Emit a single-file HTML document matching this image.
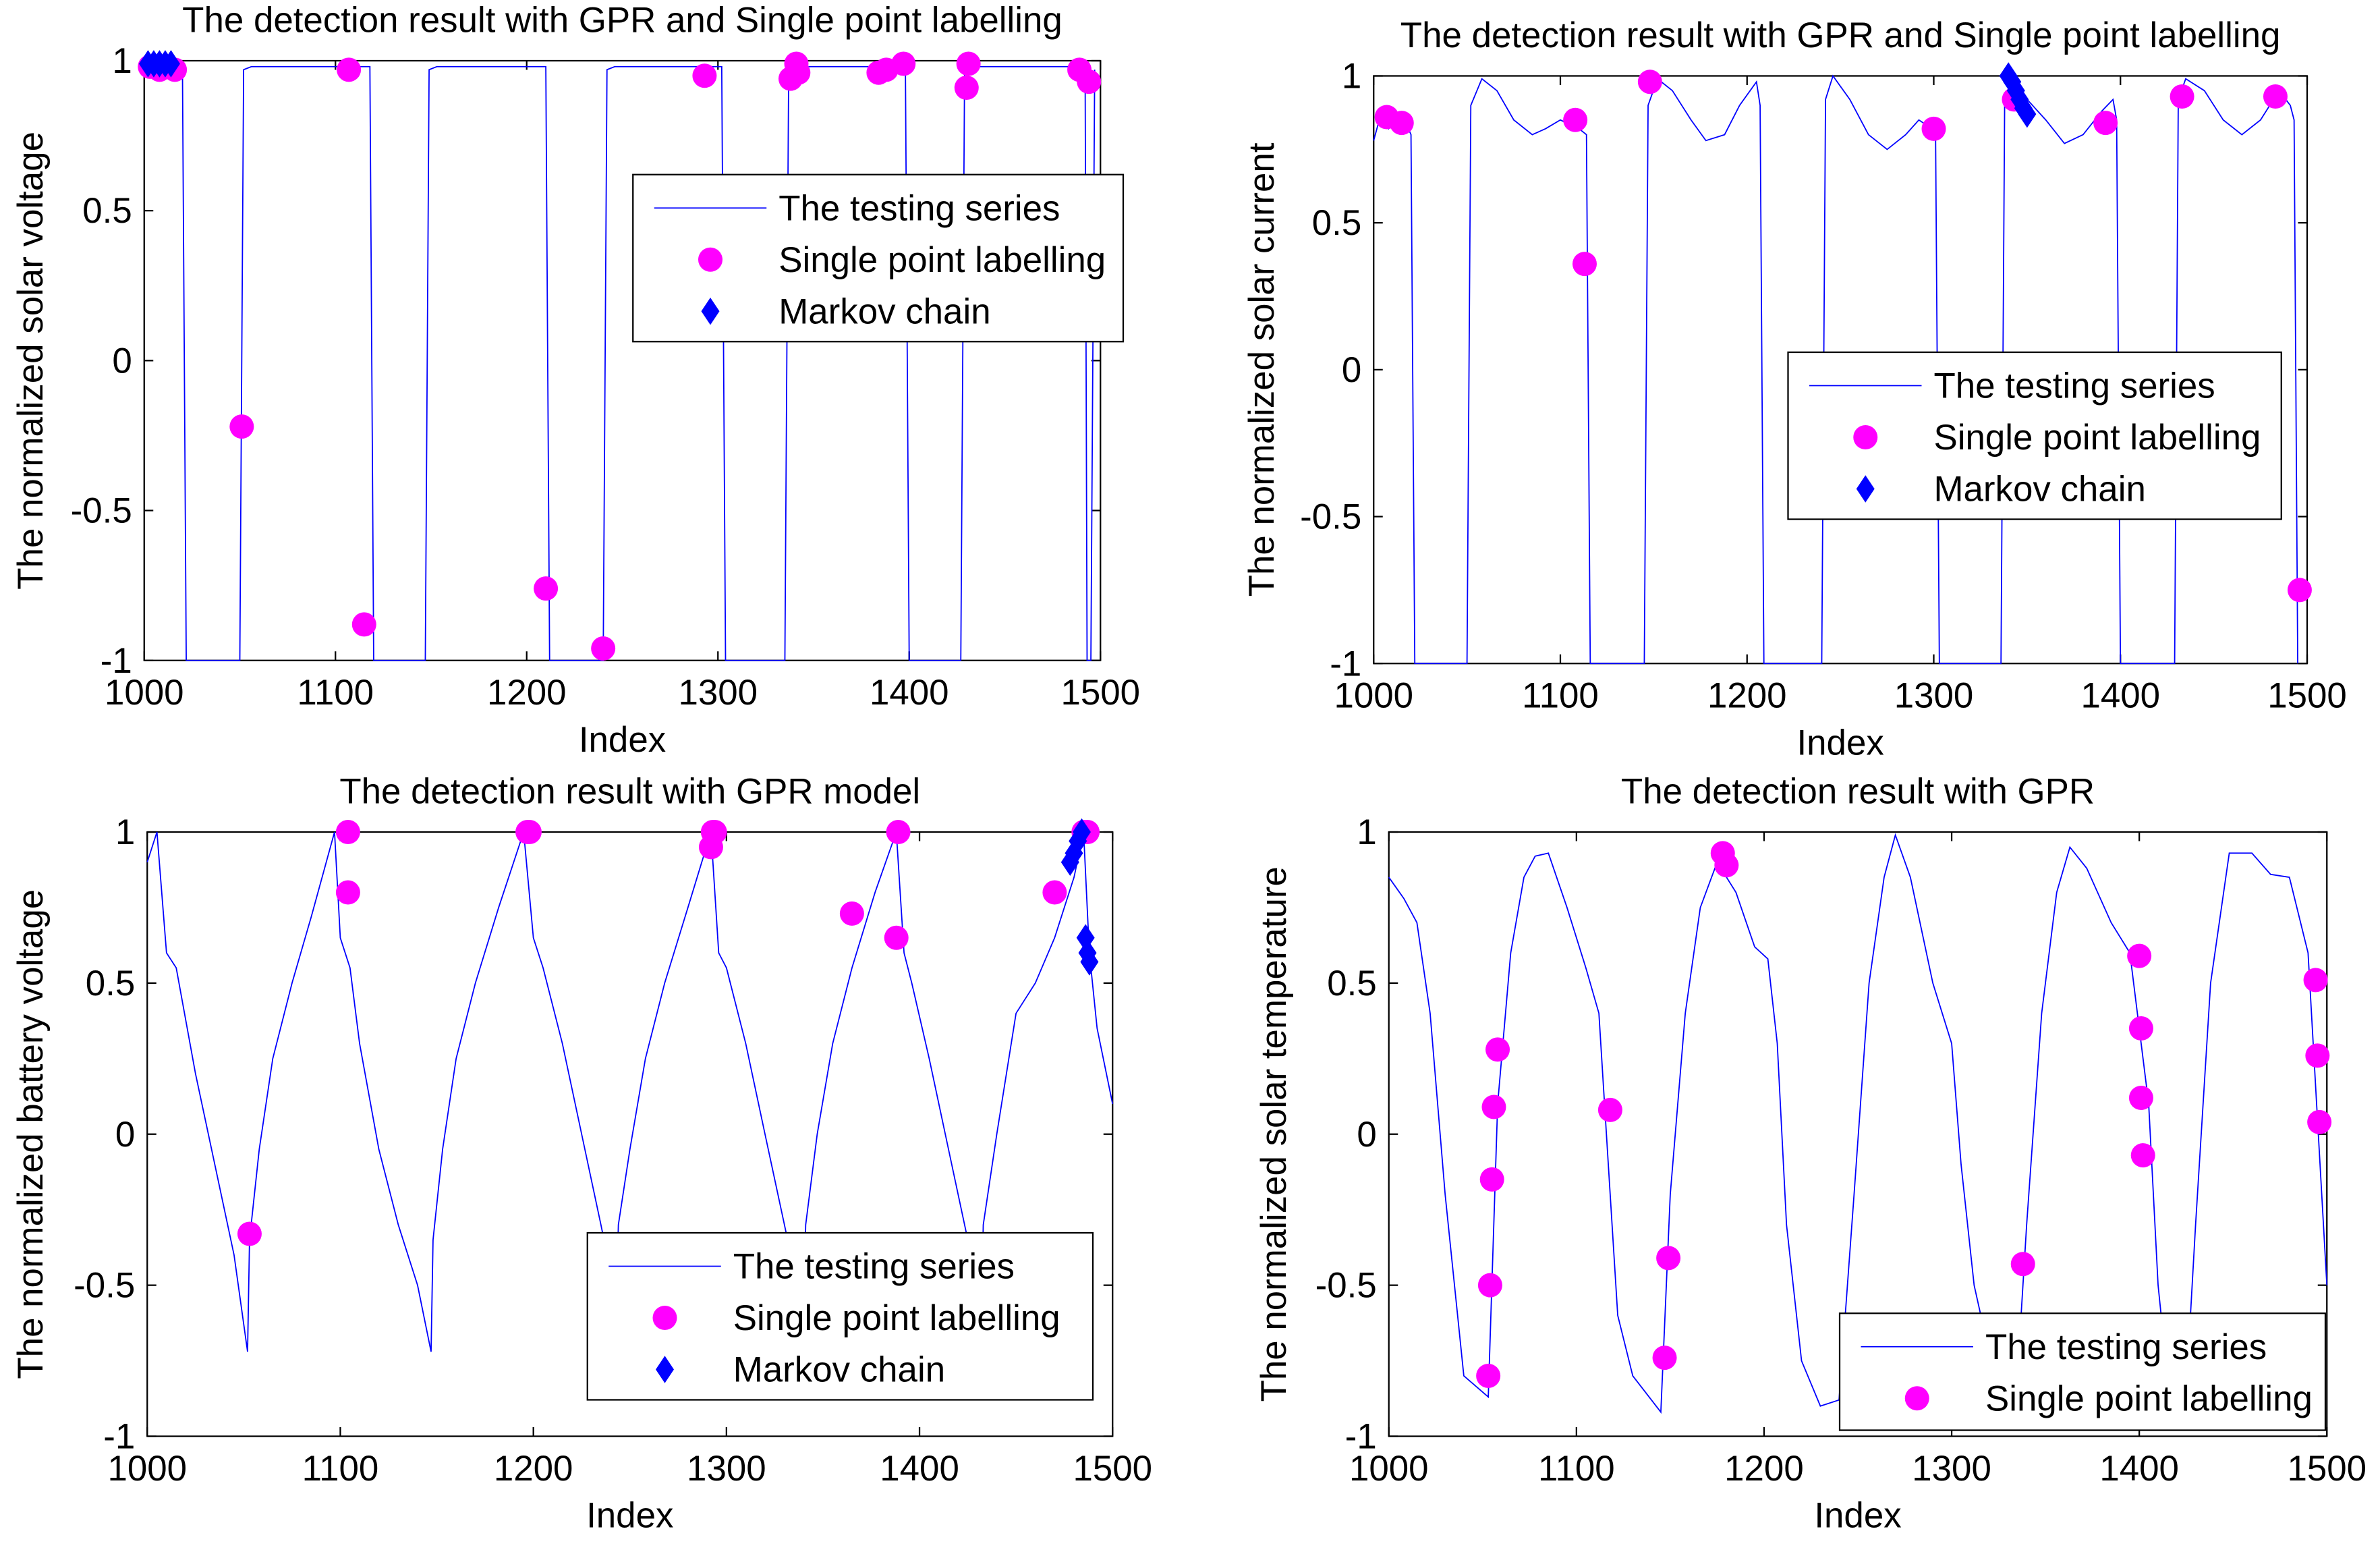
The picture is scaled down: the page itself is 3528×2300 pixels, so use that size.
<!DOCTYPE html>
<html><head><meta charset="utf-8"><style>
html,body{margin:0;padding:0;background:#fff;}
svg text{font-family:"Liberation Sans",Arial,sans-serif;fill:#000;}
</style></head><body>
<svg id="fig" xmlns="http://www.w3.org/2000/svg" width="3528" height="2295" viewBox="0 0 1568 1020"></svg>
<script>
// ---------- Data ----------
const xTicks = [1000,1100,1200,1300,1400,1500];
const yTicks = [1,0.5,0,-0.5,-1];
const yTickLabels = ["1","0.5","0","-0.5","-1"];

// Panel 1: solar voltage (breakpoints index,value)
const p1LineX = [1000,1020,1022,1050,1052,1056,1060,1118,1120,1147,1149,1153,1210,1212,1240,1242,1246,1302,1304,1335,1337,1340,1398,1400,1427,1429,1432,1492,1493,1495,1497];
const p1LineY = [0.98,0.98,-1,-1,0.97,0.98,0.98,0.98,-1,-1,0.97,0.98,0.98,-1,-1,0.97,0.98,0.98,-1,-1,0.97,0.98,0.98,-1,-1,0.97,0.98,0.98,-1,-1,0.97];
const p1DotX = [1003,1008,1012,1016,1051,1107,1115,1210,1240,1293,1338,1341,1342,1384,1388,1397,1430,1431,1489,1494];
const p1DotY = [0.98,0.97,0.98,0.97,-0.22,0.97,-0.88,-0.76,-0.96,0.95,0.94,0.99,0.96,0.96,0.97,0.99,0.91,0.99,0.97,0.93];
const p1DiaX = [1002,1005,1008,1011,1014];
const p1DiaY = [0.99,0.99,0.99,0.99,0.99];

// Panel 2: solar current
const p2LineX = [1000,1003,1008,1012,1018,1020,1022,1050,1052,1058,1066,1075,1085,1092,1100,1110,1114,1116,1145,1147,1152,1160,1170,1178,1188,1196,1205,1207,1209,1240,1242,1246,1255,1265,1275,1285,1292,1299,1301,1303,1336,1338,1342,1350,1360,1370,1380,1390,1396,1398,1400,1429,1431,1435,1445,1455,1465,1475,1485,1491,1493,1495];
const p2LineY = [0.78,0.85,0.82,0.87,0.83,0.8,-1,-1,0.9,0.99,0.95,0.85,0.8,0.82,0.85,0.82,0.8,-1,-1,0.9,0.99,0.95,0.85,0.78,0.8,0.9,0.98,0.9,-1,-1,0.92,1.0,0.92,0.8,0.75,0.8,0.85,0.82,0.8,-1,-1,0.9,1.0,0.92,0.85,0.77,0.8,0.88,0.92,0.85,-1,-1,0.92,0.99,0.95,0.85,0.8,0.85,0.95,0.9,0.85,-1];
const p2DotX = [1007,1015,1108,1113,1148,1300,1343,1392,1433,1483,1496];
const p2DotY = [0.86,0.84,0.85,0.36,0.98,0.82,0.92,0.84,0.93,0.93,-0.75];
const p2DiaX = [1340,1342,1344,1346,1348,1350];
const p2DiaY = [1.0,0.98,0.95,0.92,0.89,0.87];

// Panel 3: battery voltage
const p3LineX = [1000,1005,1010,1015,1025,1035,1045,1052,1053,1058,1065,1075,1085,1097,1100,1105,1110,1120,1130,1140,1147,1148,1153,1160,1170,1182,1195,1200,1205,1215,1225,1235,1243,1244,1250,1258,1268,1280,1292,1296,1300,1310,1320,1330,1340,1341,1347,1355,1365,1377,1388,1392,1396,1405,1415,1425,1432,1433,1440,1450,1460,1470,1480,1485,1488,1492,1500];
const p3LineY = [0.9,1.0,0.6,0.55,0.2,-0.1,-0.4,-0.72,-0.35,-0.05,0.25,0.5,0.72,1.0,0.65,0.55,0.3,-0.05,-0.3,-0.5,-0.72,-0.35,-0.05,0.25,0.5,0.75,1.0,0.65,0.55,0.3,0.0,-0.3,-0.55,-0.3,-0.05,0.25,0.5,0.75,1.0,0.6,0.55,0.3,0.0,-0.3,-0.6,-0.3,0.0,0.3,0.55,0.8,1.0,0.6,0.5,0.25,-0.05,-0.35,-0.6,-0.3,0.0,0.4,0.5,0.65,0.85,1.0,0.6,0.35,0.1];
const p3DotX = [1053,1104,1104,1197,1198,1292,1293,1294,1365,1388,1389,1470,1485,1487];
const p3DotY = [-0.33,0.8,1,1,1,0.95,1,1,0.73,0.65,1,0.8,1,1];
const p3DiaX = [1478,1480,1482,1484,1486,1487,1488];
const p3DiaY = [0.9,0.93,0.97,1.0,0.65,0.6,0.57];

// Panel 4: solar temperature
const p4LineX = [1000,1008,1015,1022,1030,1040,1053,1058,1065,1072,1078,1085,1095,1105,1112,1115,1122,1130,1140,1145,1150,1158,1166,1175,1185,1195,1202,1207,1212,1220,1230,1240,1248,1256,1264,1270,1278,1290,1300,1305,1312,1322,1335,1340,1348,1356,1363,1372,1385,1395,1405,1410,1415,1425,1430,1438,1448,1460,1470,1480,1490,1500];
const p4LineY = [0.85,0.78,0.7,0.4,-0.2,-0.8,-0.87,0.1,0.6,0.85,0.92,0.93,0.75,0.55,0.4,0.1,-0.6,-0.8,-0.88,-0.92,-0.2,0.4,0.75,0.9,0.8,0.62,0.58,0.3,-0.3,-0.75,-0.9,-0.88,-0.2,0.5,0.85,0.99,0.85,0.5,0.3,-0.1,-0.5,-0.78,-0.8,-0.3,0.4,0.8,0.95,0.88,0.7,0.6,0.1,-0.5,-0.8,-0.85,-0.3,0.5,0.93,0.93,0.86,0.85,0.6,-0.5];
const p4DotX = [1053,1054,1055,1056,1058,1118,1147,1149,1178,1180,1338,1400,1401,1401,1402,1494,1495,1496];
const p4DotY = [-0.8,-0.5,-0.15,0.09,0.28,0.08,-0.74,-0.41,0.93,0.89,-0.43,0.59,0.35,0.12,-0.07,0.51,0.26,0.04];

// ---------- Drawing ----------
const NS = "http://www.w3.org/2000/svg";
const svg = document.getElementById("fig");
const FS = 23.5;
function mk(tag, attrs, parent){ const e=document.createElementNS(NS,tag); for(const k in attrs) e.setAttribute(k,attrs[k]); (parent||svg).appendChild(e); return e; }

const panels = [
 {id:"voltage", L:95,R:725,T:40,B:435, title:"The detection result with GPR and Single point labelling", titleY:21, ylabel:"The normalized solar voltage", ylx:28,
  lx:p1LineX, ly:p1LineY, dx:p1DotX, dy:p1DotY, kx:p1DiaX, ky:p1DiaY, leg:{x:417,y:115,w:323,h:110,dia:true}},
 {id:"current", L:905,R:1520,T:50,B:437, title:"The detection result with GPR and Single point labelling", titleY:31, ylabel:"The normalized solar current", ylx:839,
  lx:p2LineX, ly:p2LineY, dx:p2DotX, dy:p2DotY, kx:p2DiaX, ky:p2DiaY, leg:{x:1178,y:232,w:325,h:110,dia:true}},
 {id:"battery", L:97,R:733,T:548,B:946, title:"The detection result with GPR model", titleY:529, ylabel:"The normalized battery voltage", ylx:28,
  lx:p3LineX, ly:p3LineY, dx:p3DotX, dy:p3DotY, kx:p3DiaX, ky:p3DiaY, leg:{x:387,y:812,w:333,h:110,dia:true}},
 {id:"temperature", L:915,R:1533,T:548,B:946, title:"The detection result with GPR", titleY:529, ylabel:"The normalized solar temperature", ylx:847,
  lx:p4LineX, ly:p4LineY, dx:p4DotX, dy:p4DotY, kx:[], ky:[], leg:{x:1212,y:865,w:320,h:77,dia:false}}
];

panels.forEach(p=>{
  const g = mk("g",{});
  
  
  const sx = v => p.L + (v-1000)/500*(p.R-p.L);
  const sy = v => p.B - (v+1)/2*(p.B-p.T);
  mk("rect",{x:p.L,y:p.T,width:p.R-p.L,height:p.B-p.T,fill:"#fff",stroke:"#000","stroke-width":1},g);
  xTicks.forEach(t=>{
    const x=sx(t);
    mk("line",{x1:x,y1:p.B,x2:x,y2:p.B-6,stroke:"#000","stroke-width":1},g);
    mk("line",{x1:x,y1:p.T,x2:x,y2:p.T+6,stroke:"#000","stroke-width":1},g);
    const tl=mk("text",{x:x,y:p.B+29,"font-size":FS,"text-anchor":"middle"},g); tl.textContent=t;
    
    
  });
  yTicks.forEach((t,i)=>{
    const y=sy(t);
    mk("line",{x1:p.L,y1:y,x2:p.L+6,y2:y,stroke:"#000","stroke-width":1},g);
    mk("line",{x1:p.R,y1:y,x2:p.R-6,y2:y,stroke:"#000","stroke-width":1},g);
    const tl=mk("text",{x:p.L-8,y:y+8,"font-size":FS,"text-anchor":"end"},g); tl.textContent=yTickLabels[i];
    
    
  });
  const pts = p.lx.map((v,i)=>sx(v).toFixed(1)+","+sy(p.ly[i]).toFixed(1)).join(" ");
  const pl = mk("polyline",{points:pts,fill:"none",stroke:"#0000ff","stroke-width":0.8},g);
  
  
  p.dx.forEach((v,i)=>{
    const c=mk("circle",{cx:sx(v),cy:sy(p.dy[i]),r:8,fill:"#ff00ff"},g);
    
    
  });
  p.kx.forEach((v,i)=>{
    const x=sx(v), y=sy(p.ky[i]);
    const d=mk("polygon",{points:`${x},${y-9} ${x+6},${y} ${x},${y+9} ${x-6},${y}`,fill:"#0000ff"},g);
    
    
  });
  const tt=mk("text",{x:(p.L+p.R)/2,y:p.titleY,"font-size":FS,"text-anchor":"middle"},g); tt.textContent=p.title;
  
  
  const xl=mk("text",{x:(p.L+p.R)/2,y:p.B+60,"font-size":FS,"text-anchor":"middle"},g); xl.textContent="Index";
  
  
  const cy=(p.T+p.B)/2;
  const yl=mk("text",{x:p.ylx,y:cy,"font-size":FS,"text-anchor":"middle",transform:`rotate(-90 ${p.ylx} ${cy})`},g); yl.textContent=p.ylabel;
  
  
  const L=p.leg;
  const lg=mk("g",{},g);
  
  
  mk("rect",{x:L.x,y:L.y,width:L.w,height:L.h,fill:"#fff",stroke:"#000","stroke-width":1},lg);
  const rowH=34, y0=L.y+22;
  mk("line",{x1:L.x+14,y1:y0,x2:L.x+88,y2:y0,stroke:"#0000ff","stroke-width":0.8},lg);
  const t1=mk("text",{x:L.x+96,y:y0+8,"font-size":FS},lg); t1.textContent="The testing series";
  
  
  mk("circle",{cx:L.x+51,cy:y0+rowH,r:8,fill:"#ff00ff"},lg);
  const t2=mk("text",{x:L.x+96,y:y0+rowH+8,"font-size":FS},lg); t2.textContent="Single point labelling";
  
  
  if(L.dia){
    const x=L.x+51,y=y0+2*rowH;
    mk("polygon",{points:`${x},${y-9} ${x+6},${y} ${x},${y+9} ${x-6},${y}`,fill:"#0000ff"},lg);
    const t3=mk("text",{x:L.x+96,y:y+8,"font-size":FS},lg); t3.textContent="Markov chain";
    
    
  }
});
</script>
</body></html>
